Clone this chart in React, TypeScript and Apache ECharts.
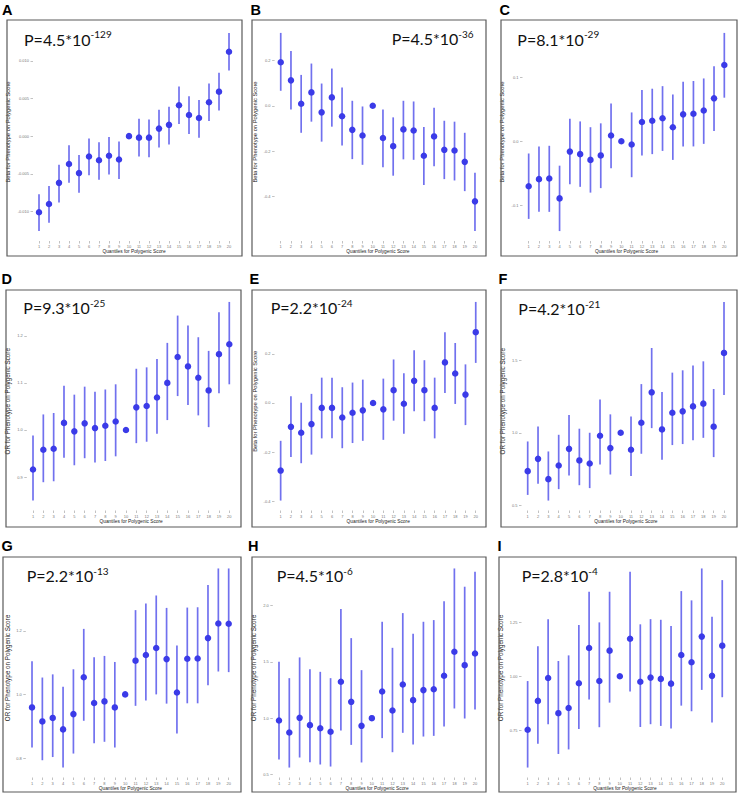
import React, { useEffect, useRef } from "react";
import * as echarts from "echarts";

// Quantiles of the polygenic score (x axis)
const QUANTILES = [1, 2, 3, 4, 5, 6, 7, 8, 9, 10, 11, 12, 13, 14, 15, 16, 17, 18, 19, 20];

// Panel A
const estA = [-0.0101, -0.009, -0.0062, -0.0037, -0.0049, -0.0027, -0.0032, -0.0026, -0.0031, 0, -0.0002, -0.0002, 0.001, 0.0015, 0.0041, 0.0028, 0.0024, 0.0045, 0.0059, 0.0112];
const loA = [-0.0126, -0.0115, -0.0088, -0.0062, -0.0075, -0.0052, -0.0058, -0.0051, -0.0057, 0, -0.0027, -0.0028, -0.0015, -0.0011, 0.0016, 0.0003, -0.0002, 0.002, 0.0034, 0.0087];
const hiA = [-0.0077, -0.0066, -0.0038, -0.0012, -0.0025, -0.0003, -0.0008, -0.0001, -0.0007, 0, 0.0023, 0.0022, 0.0035, 0.0039, 0.0066, 0.0053, 0.0048, 0.007, 0.0084, 0.0137];
const ticksA = [-0.01, -0.005, 0, 0.005, 0.01];

// Panel B
const estB = [0.192, 0.112, 0.009, 0.059, -0.029, 0.037, -0.046, -0.106, -0.131, 0, -0.142, -0.178, -0.104, -0.109, -0.22, -0.135, -0.194, -0.197, -0.247, -0.421];
const loB = [0.066, -0.016, -0.119, -0.07, -0.158, -0.092, -0.175, -0.235, -0.26, 0, -0.271, -0.308, -0.236, -0.238, -0.349, -0.266, -0.323, -0.329, -0.376, -0.552];
const hiB = [0.321, 0.241, 0.136, 0.186, 0.098, 0.164, 0.081, 0.022, -0.003, 0, -0.016, -0.051, 0.022, 0.019, -0.094, -0.009, -0.066, -0.07, -0.119, -0.295];
const ticksB = [-0.4, -0.2, 0, 0.2];

// Panel C
const estC = [-0.07, -0.059, -0.058, -0.089, -0.016, -0.02, -0.029, -0.022, 0.009, 0, -0.005, 0.03, 0.032, 0.036, 0.022, 0.042, 0.043, 0.048, 0.067, 0.119];
const loC = [-0.121, -0.11, -0.11, -0.14, -0.067, -0.071, -0.08, -0.073, -0.042, 0, -0.056, -0.022, -0.02, -0.015, -0.029, -0.008, -0.008, -0.004, 0.016, 0.068];
const hiC = [-0.019, -0.008, -0.007, -0.038, 0.035, 0.031, 0.022, 0.028, 0.059, 0, 0.045, 0.08, 0.082, 0.086, 0.073, 0.093, 0.094, 0.098, 0.117, 0.169];
const ticksC = [-0.1, 0, 0.1];

// Panel D
const estD = [0.916, 0.958, 0.96, 1.015, 0.997, 1.014, 1.004, 1.009, 1.018, 1, 1.048, 1.051, 1.069, 1.1, 1.155, 1.135, 1.111, 1.084, 1.161, 1.182];
const loD = [0.85, 0.889, 0.891, 0.941, 0.925, 0.94, 0.931, 0.934, 0.944, 1, 0.972, 0.975, 0.992, 1.021, 1.072, 1.053, 1.031, 1.006, 1.078, 1.097];
const hiD = [0.988, 1.033, 1.036, 1.094, 1.075, 1.092, 1.081, 1.086, 1.097, 1, 1.13, 1.133, 1.151, 1.185, 1.243, 1.222, 1.197, 1.168, 1.25, 1.272];
const ticksD = [0.9, 1.0, 1.1, 1.2];

// Panel E
const estE = [-0.275, -0.097, -0.121, -0.086, -0.02, -0.02, -0.059, -0.04, -0.03, 0, -0.026, 0.052, -0.003, 0.09, 0.052, -0.02, 0.165, 0.12, 0.034, 0.288];
const loE = [-0.397, -0.22, -0.245, -0.21, -0.144, -0.144, -0.184, -0.163, -0.154, 0, -0.15, -0.072, -0.125, -0.034, -0.074, -0.144, 0.041, -0.004, -0.09, 0.163];
const hiE = [-0.154, 0.027, 0.001, 0.037, 0.103, 0.103, 0.064, 0.083, 0.095, 0, 0.099, 0.177, 0.121, 0.214, 0.174, 0.103, 0.288, 0.244, 0.157, 0.411];
const ticksE = [-0.4, -0.2, 0, 0.2];

// Panel F
const estF = [0.735, 0.82, 0.68, 0.774, 0.889, 0.809, 0.788, 0.979, 0.894, 1, 0.883, 1.069, 1.279, 1.023, 1.138, 1.148, 1.182, 1.201, 1.042, 1.551];
const loF = [0.571, 0.648, 0.532, 0.611, 0.705, 0.638, 0.618, 0.781, 0.712, 1, 0.701, 0.855, 1.032, 0.813, 0.915, 0.922, 0.949, 0.965, 0.832, 1.26];
const hiF = [0.94, 1.044, 0.871, 0.986, 1.122, 1.028, 1.0, 1.23, 1.127, 1, 1.113, 1.336, 1.585, 1.281, 1.415, 1.431, 1.465, 1.493, 1.302, 1.903];
const ticksF = [0.5, 1.0, 1.5];

// Panel G
const estG = [0.959, 0.915, 0.926, 0.89, 0.938, 1.054, 0.973, 0.978, 0.959, 1, 1.106, 1.124, 1.146, 1.111, 1.006, 1.112, 1.113, 1.177, 1.223, 1.222];
const loG = [0.833, 0.793, 0.803, 0.77, 0.814, 0.917, 0.846, 0.851, 0.833, 1, 0.964, 0.981, 1.0, 0.971, 0.877, 0.972, 0.972, 1.029, 1.072, 1.07];
const hiG = [1.104, 1.053, 1.063, 1.024, 1.079, 1.206, 1.117, 1.121, 1.102, 1, 1.265, 1.286, 1.311, 1.272, 1.154, 1.273, 1.274, 1.344, 1.396, 1.396];
const ticksG = [0.8, 1.0, 1.2];

// Panel H
const estH = [0.979, 0.873, 1.003, 0.938, 0.911, 0.879, 1.323, 1.145, 0.932, 1, 1.237, 1.068, 1.299, 1.16, 1.249, 1.257, 1.376, 1.589, 1.47, 1.574];
const loH = [0.633, 0.562, 0.651, 0.61, 0.589, 0.571, 0.891, 0.763, 0.607, 1, 0.823, 0.698, 0.87, 0.766, 0.837, 0.843, 0.926, 1.086, 0.997, 1.077];
const hiH = [1.5, 1.355, 1.539, 1.435, 1.411, 1.355, 1.968, 1.71, 1.426, 1, 1.855, 1.624, 1.932, 1.749, 1.855, 1.87, 2.036, 2.328, 2.166, 2.299];
const ticksH = [0.5, 1.0, 1.5, 2.0];

// Panel I
const estI = [0.752, 0.886, 0.992, 0.829, 0.853, 0.968, 1.131, 0.978, 1.119, 1, 1.174, 0.975, 0.994, 0.988, 0.966, 1.099, 1.065, 1.184, 1.002, 1.142];
const loI = [0.577, 0.687, 0.778, 0.64, 0.661, 0.756, 0.892, 0.764, 0.878, 1, 0.929, 0.765, 0.778, 0.77, 0.758, 0.864, 0.838, 0.937, 0.786, 0.903];
const hiI = [0.978, 1.139, 1.265, 1.071, 1.097, 1.238, 1.392, 1.25, 1.392, 1, 1.485, 1.241, 1.265, 1.262, 1.233, 1.395, 1.352, 1.5, 1.276, 1.446];
const ticksI = [0.75, 1.0, 1.25];

// P-values (mantissa text and exponent)
const pBase = ["P=4.5*10", "P=4.5*10", "P=8.1*10", "P=9.3*10", "P=2.2*10", "P=4.2*10", "P=2.2*10", "P=4.5*10", "P=2.8*10"];
const pExp = ["-129", "-36", "-29", "-25", "-24", "-21", "-13", "-6", "-4"];
const panelLetters = ["A", "B", "C", "D", "E", "F", "G", "H", "I"];
const BETA = "Beta for Phenotype on Polygenic Score";
const OR = "OR for Phenotype on Polygenic Score";
const yTitles = [BETA, BETA, BETA, OR, BETA, OR, OR, OR, OR];
const X_TITLE = "Quantiles for Polygenic Score";

const DATA = [
  { est: estA, lo: loA, hi: hiA, ticks: ticksA, dec: 3 },
  { est: estB, lo: loB, hi: hiB, ticks: ticksB, dec: 1 },
  { est: estC, lo: loC, hi: hiC, ticks: ticksC, dec: 1 },
  { est: estD, lo: loD, hi: hiD, ticks: ticksD, dec: 1 },
  { est: estE, lo: loE, hi: hiE, ticks: ticksE, dec: 1 },
  { est: estF, lo: loF, hi: hiF, ticks: ticksF, dec: 1 },
  { est: estG, lo: loG, hi: hiG, ticks: ticksG, dec: 1 },
  { est: estH, lo: loH, hi: hiH, ticks: ticksH, dec: 1 },
  { est: estI, lo: loI, hi: hiI, ticks: ticksI, dec: 2 },
];

// Layout (pixels)
const LAYOUT = [
  { grid: [33, 23, 202, 218], box: [7, 20, 235, 236], letter: [2, 10], p: [24, 29], gap: 22 },
  { grid: [274.6, 23, 206.5, 218], box: [252, 20, 234, 236], letter: [250.5, 10], p: [391.7, 28.5], gap: 17 },
  { grid: [522.5, 23, 208, 218], box: [501, 20, 236, 236], letter: [499.5, 10], p: [517.3, 29], gap: 17.5 },
  { grid: [26.8, 292, 208.7, 218.5], box: [6, 290, 235, 237], letter: [1.5, 278.7], p: [23.3, 297.5], gap: 16 },
  { grid: [274.5, 292, 207.4, 218.5], box: [252, 290, 234, 237], letter: [249.5, 278.7], p: [270.7, 297.5], gap: 17 },
  { grid: [521.5, 292, 208.7, 218.5], box: [501, 290, 236, 237], letter: [498.5, 278.5], p: [518.3, 298.5], gap: 16.5 },
  { grid: [25.8, 558.5, 209.1, 219], box: [3, 557, 238, 235], letter: [1.5, 545.5], p: [26.7, 565.5], gap: 15 },
  { grid: [272.8, 558.5, 208.4, 219], box: [252, 557, 234, 235], letter: [248, 545.5], p: [276.7, 565.5], gap: 16 },
  { grid: [521.5, 558.5, 206.9, 219], box: [499, 557, 237, 235], letter: [497.5, 545.5], p: [521.7, 565.5], gap: 18 },
];

const POINT_COLOR = "#3b3be8";
const BAR_COLOR = "#5252ea";

function buildOption() {
  const grids: any[] = [];
  const xAxes: any[] = [];
  const yAxes: any[] = [];
  const series: any[] = [];
  const titles: any[] = [];
  const graphics: any[] = [];

  DATA.forEach((d, i) => {
    const L = LAYOUT[i];
    const lo = Math.min(...d.lo);
    const hi = Math.max(...d.hi);
    const span = hi - lo;
    grids.push({ left: L.grid[0], top: L.grid[1], width: L.grid[2], height: L.grid[3], containLabel: false });
    xAxes.push({
      type: "value",
      gridIndex: i,
      position: "bottom",
      min: 0.4,
      max: 20.6,
      axisLine: { show: false, onZero: false },
      splitLine: { show: false },
      axisTick: { show: true, customValues: QUANTILES, length: 2.5, lineStyle: { color: "#999", width: 0.6 } },
      axisLabel: { customValues: QUANTILES, fontSize: 4, color: "#777", margin: 3.5, fontFamily: "Liberation Sans" },
      name: X_TITLE,
      nameLocation: "middle",
      nameGap: 7.5,
      nameTextStyle: { fontSize: 4.8, color: "#222", fontFamily: "Liberation Sans" },
    });
    yAxes.push({
      type: "value",
      gridIndex: i,
      position: "left",
      min: lo - 0.05 * span,
      max: hi + 0.05 * span,
      axisLine: { show: false, onZero: false },
      splitLine: { show: false },
      axisTick: { show: true, customValues: d.ticks, length: 2.5, lineStyle: { color: "#999", width: 0.6 } },
      axisLabel: {
        customValues: d.ticks,
        fontSize: 4,
        color: "#777",
        margin: 4,
        fontFamily: "Liberation Sans",
        formatter: (v: number) => v.toFixed(d.dec),
      },
      name: yTitles[i],
      nameLocation: "middle",
      nameGap: L.gap,
      nameTextStyle: { fontSize: yTitles[i] === OR ? 6.3 : 5.8, color: "#222", fontFamily: "Liberation Sans" },
    });
    series.push({
      type: "custom",
      xAxisIndex: i,
      yAxisIndex: i,
      data: QUANTILES.map((q, k) => [q, d.lo[k], d.hi[k]]),
      encode: { x: 0, y: [1, 2] },
      renderItem: (params: any, api: any) => {
        const x = api.value(0);
        const p1 = api.coord([x, api.value(1)]);
        const p2 = api.coord([x, api.value(2)]);
        return {
          type: "line",
          shape: { x1: p1[0], y1: p1[1], x2: p2[0], y2: p2[1] },
          style: { stroke: BAR_COLOR, lineWidth: 1.7, opacity: 0.82 },
        };
      },
      z: 2,
    });
    series.push({
      type: "scatter",
      xAxisIndex: i,
      yAxisIndex: i,
      data: QUANTILES.map((q, k) => [q, d.est[k]]),
      symbol: "circle",
      symbolSize: 6.5,
      itemStyle: { color: POINT_COLOR, opacity: 1 },
      z: 3,
    });
    titles.push({
      text: `{a|${pBase[i]}}{s|${pExp[i]}}`,
      left: L.p[0],
      top: L.p[1],
      padding: 0,
      textStyle: {
        fontWeight: "normal",
        rich: {
          a: { fontFamily: "Lato", fontSize: 16, fontWeight: "normal", lineHeight: 20, color: "#111" },
          s: { fontFamily: "Lato", fontSize: 10, fontWeight: "normal", lineHeight: 7, color: "#111", verticalAlign: "top" },
        },
      },
    });
    graphics.push({
      type: "rect",
      shape: { x: L.box[0], y: L.box[1], width: L.box[2], height: L.box[3] },
      style: { fill: "none", stroke: "#5a5a5a", lineWidth: 1.2 },
      z: 10,
    });
    graphics.push({
      type: "text",
      x: L.letter[0],
      y: L.letter[1],
      style: {
        text: panelLetters[i],
        fontSize: 14.5,
        fontWeight: "bold",
        fontFamily: "Liberation Sans",
        fill: "#000",
        verticalAlign: "middle",
        align: "left",
      },
      z: 10,
    });
  });

  return {
    animation: false,
    backgroundColor: "#ffffff",
    title: titles,
    grid: grids,
    xAxis: xAxes,
    yAxis: yAxes,
    series,
    graphic: graphics,
  };
}

export default function App() {
  const ref = useRef<HTMLDivElement>(null);
  useEffect(() => {
    if (!ref.current) return;
    const chart = echarts.init(ref.current, null, { renderer: "svg" });
    chart.setOption(buildOption() as any);
    return () => chart.dispose();
  }, []);
  return (
    <div
      ref={ref}
      style={{ position: "fixed", left: 0, top: 0, width: 738, height: 794, background: "#fff" }}
    />
  );
}
